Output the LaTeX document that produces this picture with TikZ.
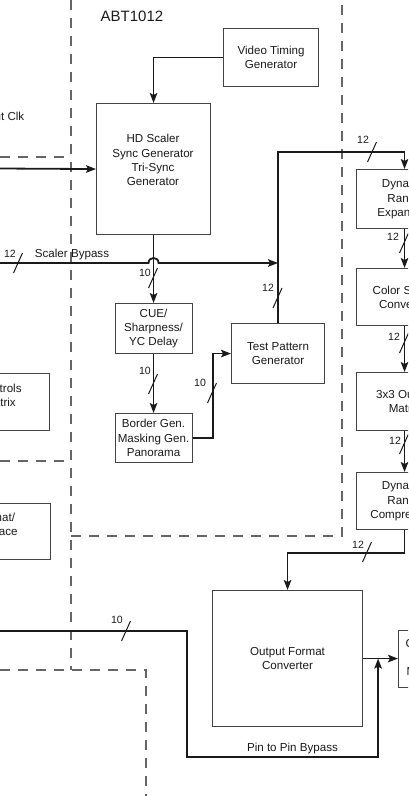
\documentclass[tikz,border=0pt]{standalone}
\usepackage{fontspec}
\setmainfont{Liberation Sans}
\usetikzlibrary{arrows.meta,calc}
\definecolor{boxc}{HTML}{444444}
\definecolor{dashc}{HTML}{666666}
\definecolor{inkc}{HTML}{1A1A1A}
\begin{document}
\begin{tikzpicture}[x=1pt,y=-1pt,
  txt/.style={font=\fontsize{11.6}{14.3}\selectfont, align=center, inner sep=0pt, text=inkc},
  blk/.style={txt, draw=boxc, line width=1.1pt, anchor=north west},
  lbl/.style={font=\fontsize{10.5}{12}\selectfont, inner sep=0pt, text=inkc},
  wire/.style={line width=1.8pt, draw=inkc},
  arr/.style={wire, -{Stealth[length=10pt,width=7.5pt,inset=2pt]}},
  bdr/.style={draw=dashc, line width=1.4pt, dash pattern=on 10pt off 8pt},
  bus/.pic={\draw[line width=1pt, draw=inkc] (-4.5,10) -- (4.5,-10);}]
\useasboundingbox (0,0) rectangle (408,796);
\clip (0,0) rectangle (408,796);

% dashed partitions
\draw[bdr] (71,0) -- (71,670);
\draw[bdr] (0,157) -- (71,157);
\draw[bdr] (0,461) -- (71,461);
\draw[bdr] (71,536) -- (342,536) -- (342,0);
\draw[bdr] (0,670) -- (146,670) -- (146,796);

% title
\node[font=\fontsize{15}{18}\selectfont, inner sep=0pt, text=inkc] (abt) at (132,16) {ABT1012};

% blocks
\node[blk, minimum width=95, minimum height=58] (vtg) at (223,28) {Video Timing\\Generator};
\node[blk, minimum width=114, minimum height=131] (hd) at (96,103) {};
\node[txt] (hdt) at (153,160) {HD Scaler\\Sync Generator\\Tri-Sync\\Generator};
\node[blk, minimum width=77, minimum height=50] (cue) at (114.5,303) {CUE/\\Sharpness/\\YC Delay};
\node[blk, minimum width=77, minimum height=49] (bgen) at (114.5,413) {Border Gen.\\Masking Gen.\\Panorama};
\node[blk, minimum width=93, minimum height=60] (tpg) at (231,323) {Test Pattern\\Generator};

\node[blk, minimum width=96, minimum height=59] (dre) at (356,169) {Dynamic\\Range\\Expansion};
\node[blk, minimum width=96, minimum height=57] (csc) at (356,268) {Color Space\\Converter};
\node[blk, minimum width=96, minimum height=58] (mtx) at (356,372) {3x3 Output\\Matrix};
\node[blk, minimum width=96, minimum height=57] (drc) at (356,472) {Dynamic\\Range\\Compression};

\node[blk, minimum width=150, minimum height=136] (ofc) at (212,590) {Output Format\\Converter};
\node[blk, minimum width=72, minimum height=57] (mux) at (398,629.5) {Clock/Sync\\Output\\Multiplexer};

\node[blk, minimum width=99, minimum height=57] (ctrl) at (-50,373) {};
\node[txt] (ctrlt) at (0,395) {Controls\\Matrix};
\node[blk, minimum width=105, minimum height=56] (fmt) at (-55,503) {};
\node[txt] (fmtt) at (-5,524.5) {Format/\\Interface};

\node[txt, anchor=east] (clk) at (24.5,117) {Input Clk};
\node[txt] (sbt) at (72,254) {Scaler Bypass};
\node[txt] (ppb) at (292.5,748) {Pin to Pin Bypass};

% connectors
\draw[arr] (vtg.west) -| (hd.north);
\coordinate (clkin) at (0,168.5);
\draw[arr] (clkin) -- (hd.west);

\coordinate (sbin) at (0,263);
\coordinate (sbend) at (sbin -| tpg.north);
\coordinate (hop) at (sbin -| hd.south);
\draw[arr] (sbin) -- ($(hop)+(-5,0)$) .. controls +(0,-6.7) and +(0,-6.7) .. ($(hop)+(5,0)$) -- (sbend);

\draw[arr] (hd.south) -- (cue.north);
\draw[arr] (cue.south) -- (bgen.north);
\draw[arr] (bgen.east) -- ++(20,0) |- (tpg.west);
\draw[arr] (tpg.north) |- ($(dre.north)+(0,-17)$) -- (dre.north);
\draw[arr] (dre.south) -- (csc.north);
\draw[arr] (csc.south) -- (mtx.north);
\draw[arr] (mtx.south) -- (drc.north);
\draw[arr] (drc.south) -- ++(0,23) -| (ofc.north);
\draw[arr] (ofc.east) -- (mux.west);

\coordinate (pin) at (0,631);
\coordinate (pbend) at (187,757);
\coordinate (pend) at ($(ofc.east)+(15,0)$);
\draw[arr] (pin) -| (pbend) -| (pend);

% bus width marks
\pic at (18,263) {bus};     \node[lbl] (w1) at (10,254) {12};
\pic at (153,278) {bus};    \node[lbl] (w2) at (145,273) {10};
\pic at (153,384) {bus};    \node[lbl] (w3) at (145,371) {10};
\pic at (212,393) {bus};    \node[lbl] (w4) at (200,383) {10};
\pic at (277.5,298) {bus};  \node[lbl] (w5) at (268,288) {12};
\pic at (372,152) {bus};    \node[lbl] (w6) at (363,140) {12};
\pic at (404,243) {bus};    \node[lbl] (w7) at (393,237) {12};
\pic at (404,343) {bus};    \node[lbl] (w8) at (394,337) {12};
\pic at (404,444) {bus};    \node[lbl] (w9) at (395,441) {12};
\pic at (367,552) {bus};    \node[lbl] (w10) at (358,545) {12};
\pic at (126,631) {bus};    \node[lbl] (w11) at (117,620) {10};
\end{tikzpicture}
\end{document}
